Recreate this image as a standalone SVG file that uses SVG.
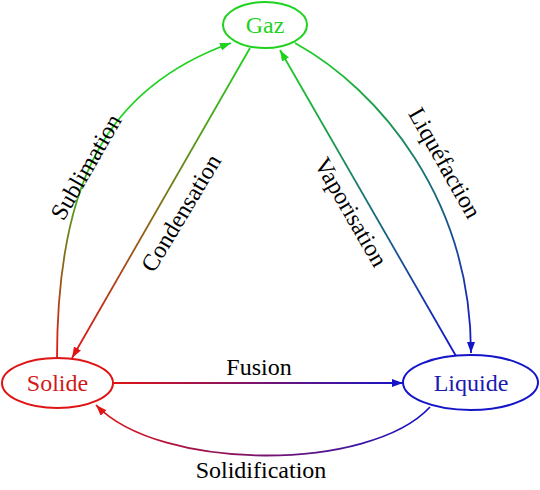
<svg xmlns="http://www.w3.org/2000/svg" width="540" height="490" viewBox="0 0 540 490">
<style>
.node{fill:none;stroke-width:2}
.lbl{font-family:"Liberation Serif","DejaVu Serif",serif;font-size:24px;text-anchor:middle}
.edge{fill:none;stroke-width:1.8}
</style>
<defs>
<marker id="ah-g" markerUnits="userSpaceOnUse" markerWidth="13" markerHeight="10" refX="11" refY="4" orient="auto"><path d="M0,0 L11,4 L0,8 Z" fill="#1ed21e"/></marker>
<marker id="ah-r" markerUnits="userSpaceOnUse" markerWidth="13" markerHeight="10" refX="11" refY="4" orient="auto"><path d="M0,0 L11,4 L0,8 Z" fill="#e01414"/></marker>
<marker id="ah-b" markerUnits="userSpaceOnUse" markerWidth="13" markerHeight="10" refX="11" refY="4" orient="auto"><path d="M0,0 L11,4 L0,8 Z" fill="#1414c8"/></marker>
<linearGradient id="g-sub" gradientUnits="userSpaceOnUse" x1="57" y1="359" x2="231" y2="43"><stop offset="0" stop-color="#e01414"/><stop offset="0.55" stop-color="#1ed21e"/><stop offset="1" stop-color="#1ed21e"/></linearGradient>
<linearGradient id="g-con" gradientUnits="userSpaceOnUse" x1="250" y1="48" x2="72" y2="358"><stop offset="0" stop-color="#1ed21e"/><stop offset="1" stop-color="#e01414"/></linearGradient>
<linearGradient id="g-vap" gradientUnits="userSpaceOnUse" x1="456" y1="356" x2="280" y2="50"><stop offset="0" stop-color="#1414c8"/><stop offset="1" stop-color="#1ed21e"/></linearGradient>
<linearGradient id="g-liq" gradientUnits="userSpaceOnUse" x1="295" y1="43" x2="471" y2="353"><stop offset="0" stop-color="#1ed21e"/><stop offset="1" stop-color="#1414c8"/></linearGradient>
<linearGradient id="g-fus" gradientUnits="userSpaceOnUse" x1="113" y1="383" x2="403" y2="383"><stop offset="0" stop-color="#e01414"/><stop offset="1" stop-color="#1414c8"/></linearGradient>
<linearGradient id="g-sol" gradientUnits="userSpaceOnUse" x1="430" y1="407" x2="96" y2="405"><stop offset="0" stop-color="#1414c8"/><stop offset="1" stop-color="#e01414"/></linearGradient>
</defs>
<g id="connectors">
<path class="edge" stroke="url(#g-sub)" marker-end="url(#ah-g)" d="M57,359 C57,185 105,88 231,43"/>
<path class="edge" stroke="url(#g-con)" marker-end="url(#ah-r)" d="M250,48 L72,358"/>
<path class="edge" stroke="url(#g-vap)" marker-end="url(#ah-g)" d="M456,356 L280,50"/>
<path class="edge" stroke="url(#g-liq)" marker-end="url(#ah-b)" d="M295,43 C380,90 471,200 471,353"/>
<path class="edge" stroke="url(#g-fus)" marker-end="url(#ah-b)" d="M113,383 L403,383"/>
<path class="edge" stroke="url(#g-sol)" marker-end="url(#ah-r)" d="M430,407 C370,472 160,472 96,405"/>
<text class="lbl" x="86" y="167" dominant-baseline="central" transform="rotate(-60 86 167)">Sublimation</text>
<text class="lbl" x="181" y="213" dominant-baseline="central" transform="rotate(-59 181 213)">Condensation</text>
<text class="lbl" x="351" y="212" dominant-baseline="central" transform="rotate(60 351 212)">Vaporisation</text>
<text class="lbl" x="445" y="163" dominant-baseline="central" transform="rotate(60.5 445 163)">Liquéfaction</text>
<text class="lbl" x="259" y="375">Fusion</text>
<text class="lbl" x="261" y="478">Solidification</text>
</g>
<g id="gaz">
<ellipse class="node" cx="265" cy="25" rx="42" ry="23" stroke="#1ed21e"/>
<text class="lbl" x="265" y="33" fill="#1ed21e">Gaz</text>
</g>
<g id="solide">
<ellipse class="node" cx="57.5" cy="383" rx="55.5" ry="25" stroke="#e01414"/>
<text class="lbl" x="57.5" y="391" fill="#d01a1a">Solide</text>
</g>
<g id="liquide">
<ellipse class="node" cx="470.5" cy="382.5" rx="67.5" ry="27.5" stroke="#1414c8"/>
<text class="lbl" x="471" y="391" fill="#1a1ab0">Liquide</text>
</g>
</svg>
